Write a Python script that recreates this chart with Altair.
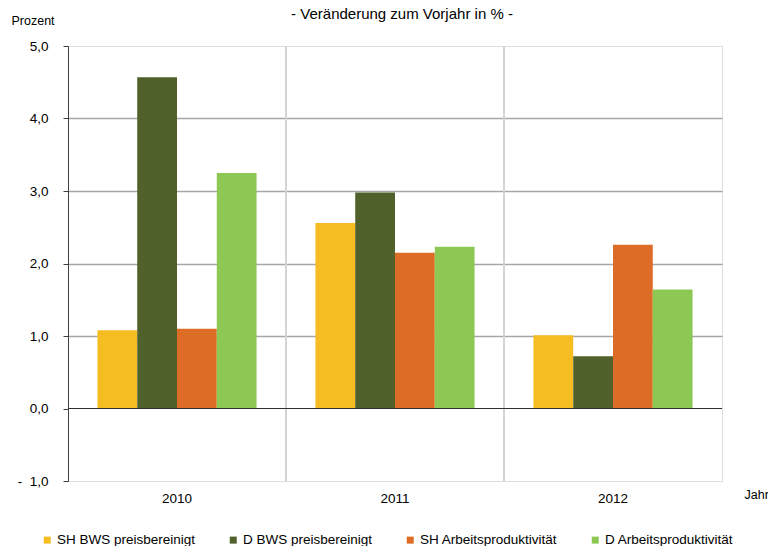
import altair as alt
import pandas as pd

years = ["2010", "2011", "2012"]
series = ["SH BWS preisbereinigt", "D BWS preisbereinigt",
          "SH Arbeitsproduktivität", "D Arbeitsproduktivität"]
sh_bws = [1.08, 2.56, 1.01]
d_bws = [4.57, 2.98, 0.72]
sh_ap = [1.10, 2.15, 2.26]
d_ap = [3.25, 2.23, 1.64]
colors = ["#F6BD22", "#50612B", "#DC6C26", "#8EC854"]
y_ticks = [-1, 0, 1, 2, 3, 4, 5]
separators = ["2011", "2012"]
zero_line = [0]
title_line = "in Schleswig-Holstein und Deutschland"
subtitle_line = "- Veränderung zum Vorjahr in % -"

rows = []
for s, vals in zip(series, [sh_bws, d_bws, sh_ap, d_ap]):
    for yr, v in zip(years, vals):
        rows.append({"Jahr": yr, "Reihe": s, "Wert": v})
df = pd.DataFrame(rows)

FONT = "Liberation Sans"
W, H = 654, 435
P_INNER = 0.27
P_OUTER = 0.135
STEP = W / len(years)

xscale = alt.Scale(domain=years, paddingInner=P_INNER, paddingOuter=P_OUTER)
yscale = alt.Scale(domain=[-1, 5], nice=False, zero=False)

xaxis = alt.Axis(title="Jahr", titleX=676, titleY=17, titleAlign="left",
                 titleBaseline="alphabetic", titleFontWeight="normal",
                 titleFontSize=12.5, titleColor="#000", titleFont=FONT,
                 labelAngle=0, labelFontSize=13.5, labelPadding=10,
                 labelColor="#000", labelFont=FONT,
                 domain=False, ticks=False, grid=False)

label_expr = ("datum.value < 0 ? '-\u00a0\u00a0' + replace(format(-datum.value, '.1f'), '.', ',') "
              ": replace(format(datum.value, '.1f'), '.', ',')")
yaxis = alt.Axis(values=y_ticks, labelExpr=label_expr, title="Prozent",
                 titleAngle=0, titleX=-57, titleY=-22, titleAlign="left",
                 titleBaseline="alphabetic", titleFontWeight="normal",
                 titleFontSize=12.5, titleColor="#000", titleFont=FONT,
                 labelFontSize=13.5, labelColor="#000", labelFont=FONT,
                 labelPadding=15, domainColor="#404040", tickColor="#404040",
                 tickSize=5, grid=True, gridColor="#A6A6A6", gridWidth=1.5,
                 gridOpacity=alt.condition("datum.value <= 0 || datum.value >= 5",
                                           alt.value(0), alt.value(1)))

# separator halfway between two bands (band start minus half the inner gap)
seps = alt.Chart(pd.DataFrame({"Jahr": separators})).mark_rule(
    color="#D4D4D4", strokeWidth=2, xOffset=-(P_INNER / 2) * STEP
).encode(
    x=alt.X("Jahr:N", bandPosition=0, scale=xscale, axis=xaxis)
)

bars = alt.Chart(df).mark_bar().encode(
    x=alt.X("Jahr:N", scale=xscale, axis=xaxis),
    xOffset=alt.XOffset("Reihe:N", sort=series,
                        scale=alt.Scale(domain=series, paddingInner=0, paddingOuter=0)),
    y=alt.Y("Wert:Q", scale=yscale, axis=yaxis),
    color=alt.Color("Reihe:N", sort=series,
                    scale=alt.Scale(domain=series, range=colors),
                    legend=alt.Legend(title=None, orient="none", legendX=-27.5, legendY=487,
                                      direction="horizontal", symbolType="square",
                                      symbolSize=49, symbolStrokeWidth=0,
                                      labelFontSize=13.5, labelFont=FONT,
                                      labelColor="#000", labelOffset=3,
                                      columnPadding=31, padding=0)),
)

zero = alt.Chart(pd.DataFrame({"Wert": zero_line})).mark_rule(
    color="#303030", strokeWidth=1
).encode(
    y=alt.Y("Wert:Q", scale=yscale, axis=yaxis)
)

chart = alt.layer(seps, bars, zero).properties(
    width=W, height=H,
    autosize=alt.AutoSizeParams(type="none"),
    padding={"left": 60, "top": 38, "right": 46, "bottom": 65},
    title=alt.TitleParams(text=title_line, subtitle=subtitle_line,
                          fontSize=15, fontWeight="bold", font=FONT, color="#000",
                          subtitleFontSize=15, subtitleFont=FONT, subtitleColor="#000",
                          anchor="middle", frame="group", offset=-7.5, dx=7,
                          subtitlePadding=1),
).configure_view(stroke=None).configure(font=FONT)

chart.save("out.html", embed_options={"renderer": "svg", "actions": False})
